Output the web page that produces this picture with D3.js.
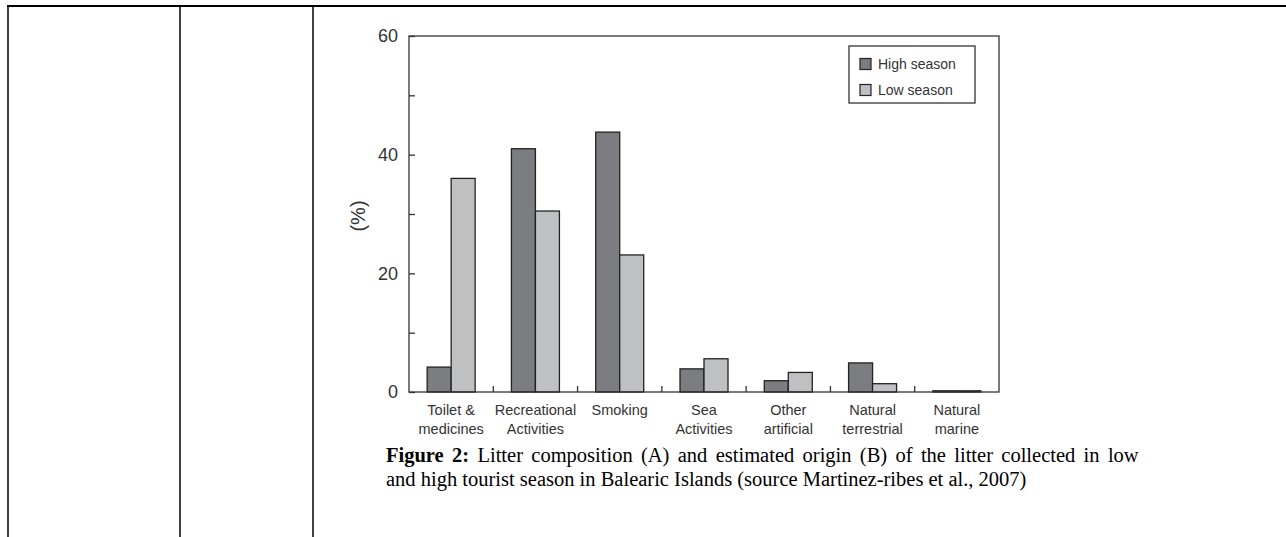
<!DOCTYPE html>
<html>
<head>
<meta charset="utf-8">
<script src="https://cdn.jsdelivr.net/npm/d3@7"></script>
<style>
  html, body { margin: 0; padding: 0; background: #fff; }
  svg { display: block; }
</style>
</head>
<body>
<div id="chart"></div>
<script>
// Values (percent)
const categories = [
    ["Toilet &", "medicines"],
    ["Recreational", "Activities"],
    ["Smoking"],
    ["Sea", "Activities"],
    ["Other", "artificial"],
    ["Natural", "terrestrial"],
    ["Natural", "marine"]
]
const seriesNames = ["High season", "Low season"]
const highSeason = [4.2, 41, 43.8, 3.9, 1.9, 4.9, 0.2]
const lowSeason = [36, 30.5, 23.1, 5.6, 3.3, 1.4, 0.2]
const yTicks = [0, 10, 20, 30, 40, 50, 60]
const yTickLabels = ["0", "", "20", "", "40", "", "60"]
const captionBold = "Figure 2:"
const captionLines = [
    " Litter composition (A) and estimated origin (B) of the litter collected in low",
    "and high tourist season in Balearic Islands (source Martinez-ribes et al., 2007)"
]

const W = 1286, H = 537
const margin = {top: 36, right: 287, bottom: 145, left: 409}
const colors = {"High season": "#7c7d81", "Low season": "#bfc0c2"}
const axisColor = "#333"
const font = "Liberation Sans, Arial, Helvetica, sans-serif"

const svg = d3.select("#chart").append("svg")
    .attr("width", W)
    .attr("height", H)

svg.append("rect").attr("width", W).attr("height", H).attr("fill", "#fff")

// Table borders of the page the figure sits in
const table = svg.append("g").attr("stroke", "#000").attr("fill", "none")
table.append("line").attr("x1", 7).attr("x2", W).attr("y1", 6).attr("y2", 6).attr("stroke-width", 2)
;[8, 180, 313].forEach(x => {
    table.append("line").attr("x1", x).attr("x2", x).attr("y1", 5).attr("y2", H).attr("stroke-width", 1.5)
})

const x = d3.scaleBand()
    .domain(d3.range(categories.length))
    .range([margin.left, W - margin.right])

// two bars per group, centred in the band
const x1 = d3.scaleBand()
    .domain(seriesNames)
    .range([0, x.bandwidth()])
    .paddingOuter(0.756)

const y = d3.scaleLinear()
    .domain([0, 60])
    .range([H - margin.bottom, margin.top])

const rows = categories.map((c, i) => ({i, values: [
    {key: "High season", value: highSeason[i]},
    {key: "Low season", value: lowSeason[i]}
]}))

// Bars
const groups = svg.append("g").selectAll("g")
    .data(rows)
    .enter().append("g")
    .attr("transform", d => `translate(${x(d.i)},0)`)

groups.selectAll("rect")
    .data(d => d.values)
    .enter().append("rect")
    .attr("x", d => x1(d.key))
    .attr("width", x1.bandwidth())
    .attr("y", d => y(d.value))
    .attr("height", d => y(0) - y(d.value))
    .attr("fill", d => colors[d.key])
    .attr("stroke", "#222")
    .attr("stroke-width", 1.3)

// Frame
svg.append("rect")
    .attr("x", margin.left)
    .attr("y", margin.top)
    .attr("width", W - margin.right - margin.left)
    .attr("height", y(0) - margin.top)
    .attr("fill", "none")
    .attr("stroke", axisColor)
    .attr("stroke-width", 1.3)

// Left axis, ticks pointing inward
const yAxis = svg.append("g")
    .attr("transform", `translate(${margin.left},0)`)
    .call(d3.axisRight(y).tickValues(yTicks).tickSize(6).tickFormat(""))
yAxis.select(".domain").remove()
yAxis.selectAll("line").attr("stroke", axisColor).attr("stroke-width", 1.3)

svg.append("g").selectAll("text")
    .data(yTicks)
    .enter().append("text")
    .attr("x", margin.left - 11)
    .attr("y", d => y(d))
    .attr("dy", "0.36em")
    .attr("text-anchor", "end")
    .attr("font-family", font)
    .attr("font-size", 18)
    .attr("fill", "#333")
    .text((d, i) => yTickLabels[i])

svg.append("text")
    .attr("transform", `translate(358,${(margin.top + y(0)) / 2 + 2}) rotate(-90)`)
    .attr("text-anchor", "middle")
    .attr("dy", "0.35em")
    .attr("font-family", font)
    .attr("font-size", 20)
    .attr("fill", "#333")
    .text("(%)")

// Bottom ticks at the group boundaries, pointing up
const boundaries = d3.range(1, categories.length)
svg.append("g").selectAll("line")
    .data(boundaries)
    .enter().append("line")
    .attr("x1", d => x(d))
    .attr("x2", d => x(d))
    .attr("y1", y(0))
    .attr("y2", y(0) - 6)
    .attr("stroke", axisColor)
    .attr("stroke-width", 1.3)

// Category labels
const labels = svg.append("g")
    .attr("font-family", font)
    .attr("font-size", 14.5)
    .attr("fill", "#333")
    .attr("text-anchor", "middle")
    .selectAll("text")
    .data(categories)
    .enter().append("text")
    .attr("x", (d, i) => x(i) + x.bandwidth() / 2)
    .attr("y", y(0) + 23)

labels.selectAll("tspan")
    .data(d => d)
    .enter().append("tspan")
    .attr("x", function() { return this.parentNode.getAttribute("x") })
    .attr("dy", (d, i) => i === 0 ? 0 : 19)
    .text(d => d)

// Legend
const legend = svg.append("g").attr("transform", "translate(849,46)")
legend.append("rect")
    .attr("width", 126).attr("height", 57)
    .attr("fill", "#fff").attr("stroke", axisColor).attr("stroke-width", 1.3)
const items = legend.selectAll("g")
    .data(seriesNames)
    .enter().append("g")
    .attr("transform", (d, i) => `translate(11,${18 + i * 26})`)
items.append("rect")
    .attr("y", -5.5).attr("width", 11).attr("height", 11)
    .attr("fill", d => colors[d]).attr("stroke", "#222").attr("stroke-width", 1.2)
items.append("text")
    .attr("x", 18).attr("dy", "0.36em")
    .attr("font-family", font).attr("font-size", 14).attr("fill", "#333")
    .text(d => d)

// Caption (first line is justified in the source document)
const caption = svg.append("g")
    .attr("font-family", "Liberation Serif, Times New Roman, serif")
    .attr("font-size", 20.5)
    .attr("fill", "#000")
const line1 = caption.append("text").attr("x", 386).attr("y", 462)
    .attr("word-spacing", 3.2)
line1.append("tspan").attr("font-weight", "bold").text(captionBold)
line1.append("tspan").text(captionLines[0])
caption.append("text").attr("x", 386).attr("y", 486).text(captionLines[1])
</script>
</body>
</html>
